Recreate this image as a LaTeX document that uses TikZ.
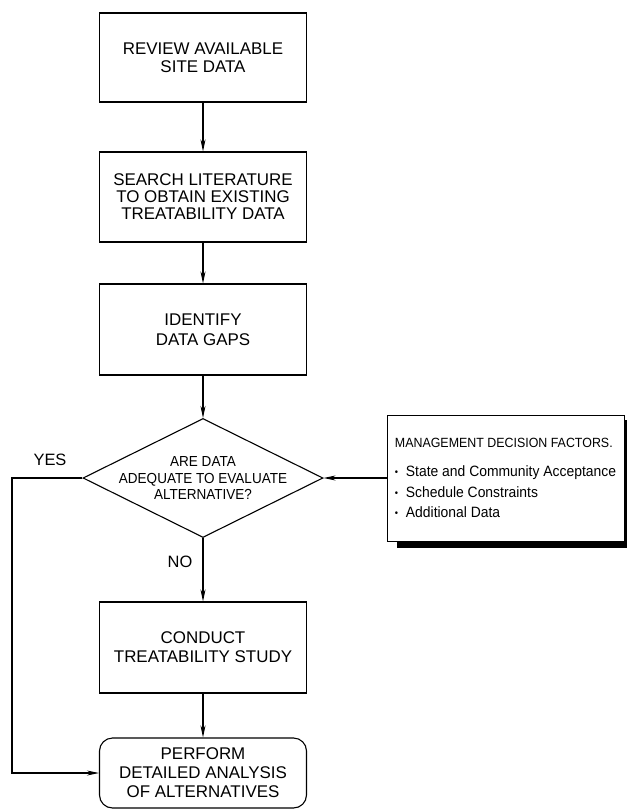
\documentclass[tikz,border=0pt]{standalone}
\usepackage{fontspec}
\setmainfont{Liberation Sans}
\newfontfamily\narrowfont[FakeStretch=0.93]{Liberation Sans}
\usetikzlibrary{arrows.meta,shapes.geometric}
\tikzset{
  stepbox/.style={draw, line width=1.1bp, minimum width=207bp, align=center,
    inner sep=0pt, font=\fontsize{17}{18.5}\selectfont},
  roundbox/.style={stepbox, rounded corners=13bp},
  dia/.style={draw, diamond, line width=1.1bp, inner sep=0pt,
    minimum width=240bp, minimum height=119bp},
  diatext/.style={align=center, inner sep=0pt, font=\narrowfont\fontsize{14.6}{16.7}\selectfont},
  mgmt/.style={draw, line width=1bp, minimum width=237bp, minimum height=126bp,
    align=left, inner sep=0pt, fill=white, font=\narrowfont\fontsize{15}{21}\selectfont},
  arr/.style={line width=1.1bp, -{Stealth[length=12bp,width=5bp]}},
  lbl/.style={font=\fontsize{16.5}{18}\selectfont, inner sep=0pt},
}
\newcommand{\bul}{\makebox[11bp][l]{\fontsize{10}{10}\selectfont\raisebox{1bp}{•}}}
\begin{document}
\begin{tikzpicture}[x=1bp,y=-1bp]
\useasboundingbox (0,0) rectangle (627,809);
\node[stepbox, minimum height=89bp] (b1) at (203,57.5) {REVIEW AVAILABLE\\SITE DATA};
\node[stepbox, minimum height=90bp, font=\fontsize{17}{17}\selectfont] (b2) at (203,197) {SEARCH LITERATURE\\TO OBTAIN EXISTING\\TREATABILITY DATA};
\node[stepbox, minimum height=91bp, font=\fontsize{17}{20}\selectfont] (b3) at (203,329.5) {IDENTIFY\\DATA GAPS};
\node[dia] (dec) at (203,478) {};
\node[diatext] (dectext) at (dec.center) {ARE DATA\\ADEQUATE TO EVALUATE\\ALTERNATIVE?};
\node[stepbox, minimum height=91bp, font=\fontsize{17}{19}\selectfont] (b4) at (203,647.5) {CONDUCT\\TREATABILITY STUDY};
\node[roundbox, minimum height=70bp, font=\fontsize{17}{19}\selectfont] (b5) at (203,773) {PERFORM\\DETAILED ANALYSIS\\OF ALTERNATIVES};
% shadow of management box
\fill (397,541) rectangle (627,548);
\fill (624.5,420) rectangle (627,548);
\node[mgmt] (mg) at (505.5,478) {%
  {\fontsize{13.4}{21}\selectfont MANAGEMENT DECISION FACTORS.}\\[8bp]
  \bul State and Community Acceptance\\
  \bul Schedule Constraints\\
  \bul Additional Data};
\coordinate (yl) at (12,478);
\draw[arr] (b1) -- (b2);
\draw[arr] (b2) -- (b3);
\draw[arr] (b3) -- (dec);
\draw[arr] (dec.south) -- (b4.north);
\draw[arr] (b4) -- (b5);
\draw[arr] (mg.west) -- (dec.east);
\draw[arr] (dec.west) -- (yl) |- (b5.west);
\node[lbl] (yes) at (50,460) {YES};
\node[lbl] (no) at (180,562) {NO};
\end{tikzpicture}
\end{document}
